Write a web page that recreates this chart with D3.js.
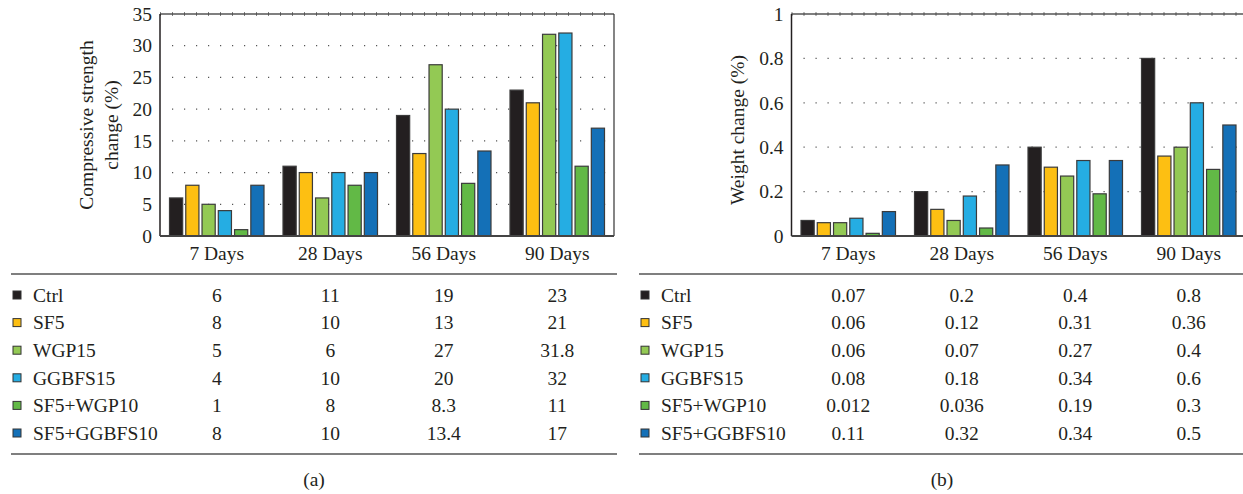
<!DOCTYPE html>
<html>
<head>
<meta charset="utf-8">
<script src="https://cdn.jsdelivr.net/npm/d3@7"></script>
<style>
  html, body { margin: 0; padding: 0; background: #fff; }
  svg { display: block; }
</style>
</head>
<body>
<svg id="fig" width="1243" height="494"></svg>
<script>
// Curing ages (groups) and mixes (series)
const ages = ["7 Days", "28 Days", "56 Days", "90 Days"];
const mixes = ["Ctrl", "SF5", "WGP15", "GGBFS15", "SF5+WGP10", "SF5+GGBFS10"];
const mixColors = ["#231f20", "#fdbf12", "#93c954", "#25ade3", "#62b946", "#1470b7"];

// (a) compressive strength change (%), one array per mix, values by age
const strengthCtrl = [6, 11, 19, 23];
const strengthSF5 = [8, 10, 13, 21];
const strengthWGP15 = [5, 6, 27, 31.8];
const strengthGGBFS15 = [4, 10, 20, 32];
const strengthSF5WGP10 = [1, 8, 8.3, 11];
const strengthSF5GGBFS10 = [8, 10, 13.4, 17];

// (b) weight change (%)
const weightCtrl = [0.07, 0.2, 0.4, 0.8];
const weightSF5 = [0.06, 0.12, 0.31, 0.36];
const weightWGP15 = [0.06, 0.07, 0.27, 0.4];
const weightGGBFS15 = [0.08, 0.18, 0.34, 0.6];
const weightSF5WGP10 = [0.012, 0.036, 0.19, 0.3];
const weightSF5GGBFS10 = [0.11, 0.32, 0.34, 0.5];

// Axis ticks and table labels as printed
const strengthTicks = [0, 5, 10, 15, 20, 25, 30, 35];
const weightTicks = [0, 0.2, 0.4, 0.6, 0.8, 1];
const strengthLabels = [
  ["6", "11", "19", "23"],
  ["8", "10", "13", "21"],
  ["5", "6", "27", "31.8"],
  ["4", "10", "20", "32"],
  ["1", "8", "8.3", "11"],
  ["8", "10", "13.4", "17"]
];
const weightLabels = [
  ["0.07", "0.2", "0.4", "0.8"],
  ["0.06", "0.12", "0.31", "0.36"],
  ["0.06", "0.07", "0.27", "0.4"],
  ["0.08", "0.18", "0.34", "0.6"],
  ["0.012", "0.036", "0.19", "0.3"],
  ["0.11", "0.32", "0.34", "0.5"]
];

const strengthSeries = [strengthCtrl, strengthSF5, strengthWGP15, strengthGGBFS15, strengthSF5WGP10, strengthSF5GGBFS10];
const weightSeries = [weightCtrl, weightSF5, weightWGP15, weightGGBFS15, weightSF5WGP10, weightSF5GGBFS10];

const FONT = "'Liberation Serif', 'Times New Roman', Times, 'DejaVu Serif', serif";
const svg = d3.select("#fig");
const FS = 19.5;
const INK = "#231f20";

function label(sel) {
  return sel.style("font-family", FONT).style("font-size", FS + "px").attr("fill", INK);
}

function panel(cfg) {
  const g = svg.append("g");
  const top = 14, bottom = 236;
  const left = cfg.left, right = cfg.left + 454;

  const x0 = d3.scaleBand().domain(ages).range([left, right]).padding(0);
  const x1 = d3.scaleBand().domain(mixes)
    .range([9.5, x0.bandwidth() - 9.5]).paddingInner(0.19).paddingOuter(0);
  const y = d3.scaleLinear().domain(cfg.domain).range([bottom, top]);

  // dotted grid
  g.append("g").selectAll("line")
    .data(cfg.ticks.filter(t => t > cfg.domain[0] && t < cfg.domain[1]))
    .join("line")
    .attr("x1", left + 12).attr("x2", right)
    .attr("y1", d => y(d)).attr("y2", d => y(d))
    .attr("stroke", "#555").attr("stroke-width", 1.2)
    .attr("stroke-dasharray", "1.2 10.8");

  // bars
  const groups = g.append("g").selectAll("g")
    .data(ages.map((a, i) => ({ age: a, i })))
    .join("g")
    .attr("transform", d => `translate(${x0(d.age)},0)`);
  groups.selectAll("rect")
    .data(d => mixes.map((m, k) => ({ mix: m, k, v: cfg.series[k][d.i] })))
    .join("rect")
    .attr("x", d => x1(d.mix))
    .attr("width", x1.bandwidth())
    .attr("y", d => y(d.v))
    .attr("height", d => y(0) - y(d.v))
    .attr("fill", d => mixColors[d.k])
    .attr("stroke", "#3b3b3b").attr("stroke-width", 1.2);

  // frame
  g.append("line").attr("x1", left).attr("x2", right).attr("y1", top).attr("y2", top)
    .attr("stroke", "#555").attr("stroke-width", 1.6);
  g.append("line").attr("x1", left).attr("x2", right).attr("y1", top).attr("y2", top)
    .attr("stroke", "#555").attr("stroke-width", 3.5).attr("stroke-dasharray", "1 11")
    .attr("stroke-dashoffset", -12);
  g.append("line").attr("x1", left).attr("x2", left).attr("y1", top).attr("y2", bottom)
    .attr("stroke", INK).attr("stroke-width", 1.5);
  g.append("line").attr("x1", right).attr("x2", right).attr("y1", top).attr("y2", bottom)
    .attr("stroke", "#333").attr("stroke-width", 1.2);
  g.append("line").attr("x1", left).attr("x2", right).attr("y1", bottom).attr("y2", bottom)
    .attr("stroke", "#444").attr("stroke-width", 1.8);

  // y axis labels
  const yAxis = d3.axisLeft(y).tickValues(cfg.ticks).tickSize(0).tickPadding(8)
    .tickFormat(d3.format(cfg.fmt));
  const ya = g.append("g").attr("transform", `translate(${left},0)`).call(yAxis);
  ya.select(".domain").remove();
  label(ya.selectAll("text"));

  // category labels
  const xAxis = d3.axisBottom(x0).tickSize(0).tickPadding(10);
  const xa = g.append("g").attr("transform", `translate(0,${bottom})`).call(xAxis);
  xa.select(".domain").remove();
  label(xa.selectAll("text"));

  // y title
  const mid = (top + bottom) / 2;
  cfg.title.forEach((line, i) => {
    label(g.append("text"))
      .attr("transform", `translate(${cfg.titleX + i * 25},${mid + cfg.titleDy}) rotate(-90)`)
      .attr("text-anchor", "middle").attr("dominant-baseline", "central")
      .text(line);
  });

  // data table
  const tl = cfg.tableLeft, tr = cfg.tableLeft + 606;
  const rowY = d3.scalePoint().domain(mixes).range([295, 433]);
  g.append("line").attr("x1", tl).attr("x2", tr).attr("y1", 274).attr("y2", 274)
    .attr("stroke", "#555").attr("stroke-width", 1.5);
  g.append("line").attr("x1", tl).attr("x2", tr).attr("y1", 454).attr("y2", 454)
    .attr("stroke", "#555").attr("stroke-width", 1.5);
  const rows = g.append("g").selectAll("g").data(mixes).join("g")
    .attr("transform", d => `translate(0,${rowY(d)})`);
  rows.append("rect")
    .attr("x", tl + 2).attr("y", -4).attr("width", 8).attr("height", 8)
    .attr("fill", (d, k) => mixColors[k]).attr("stroke", "#333").attr("stroke-width", 1);
  label(rows.append("text")).attr("x", tl + 22).attr("dy", "0.35em").text(d => d);
  label(rows.selectAll("text.val")
    .data((d, k) => ages.map((a, i) => ({ a, t: cfg.labels[k][i] })))
    .join("text").attr("class", "val"))
    .attr("x", d => x0(d.a) + x0.bandwidth() / 2).attr("dy", "0.35em")
    .attr("text-anchor", "middle").text(d => d.t);

  label(g.append("text")).attr("x", (tl + tr) / 2).attr("y", 479)
    .attr("text-anchor", "middle").attr("dominant-baseline", "central")
    .text(cfg.caption);
}

panel({
  left: 160, domain: [0, 35], ticks: strengthTicks, fmt: "d",
  series: strengthSeries, labels: strengthLabels,
  title: ["Compressive strength", "change (%)"], titleX: 86, titleDy: 0,
  tableLeft: 11, caption: "(a)"
});
panel({
  left: 791.5, domain: [0, 1], ticks: weightTicks, fmt: "",
  series: weightSeries, labels: weightLabels,
  title: ["Weight change (%)"], titleX: 737, titleDy: 5,
  tableLeft: 639, caption: "(b)"
});
</script>
</body>
</html>
